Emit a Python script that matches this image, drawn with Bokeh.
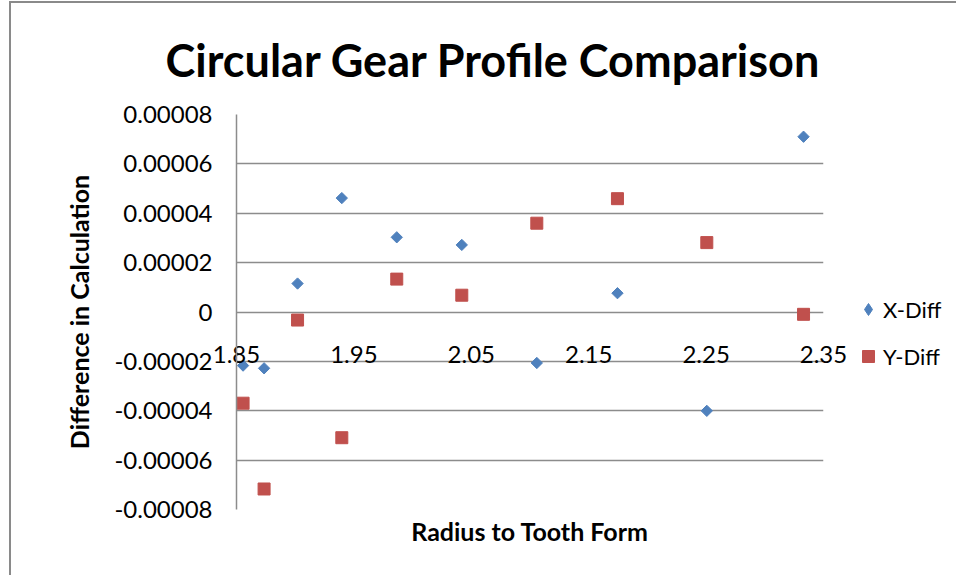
import math
from bokeh.plotting import figure
from bokeh.models import (FixedTicker, CustomJSTickFormatter, Legend, LegendItem, Title, Range1d)
from bokeh.embed import file_html
from bokeh.resources import INLINE

# ---- data ----
radius = [1.8556, 1.8735, 1.902, 1.9397, 1.9865, 2.0419, 2.1058, 2.1745, 2.2506, 2.333]
x_diff = [-2.171e-5, -2.281e-5, 1.153e-5, 4.615e-5, 3.026e-5, 2.717e-5, -2.065e-5, 0.762e-5, -4.004e-5, 7.10e-5]
y_diff = [-3.694e-5, -7.169e-5, -0.326e-5, -5.092e-5, 1.332e-5, 0.680e-5, 3.597e-5, 4.591e-5, 2.811e-5, -0.094e-5]
x_ticks = [1.85, 1.95, 2.05, 2.15, 2.25, 2.35]
y_ticks = [-8e-5, -6e-5, -4e-5, -2e-5, 0.0, 2e-5, 4e-5, 6e-5, 8e-5]

title_text = "Circular Gear Profile Comparison"
x_label = "Radius to Tooth Form"
y_label = "Difference in Calculation"
series_names = ["X-Diff", "Y-Diff"]

FONT = "Lato"
GRID = "#8c8c8c"
BLUE = "#4F81BD"
RED = "#C0504D"

p = figure(frame_width=587, frame_height=395, output_backend="svg", toolbar_location=None,
           x_range=Range1d(1.85, 2.35), y_range=Range1d(-8e-5, 8e-5),
           min_border_left=225, min_border_right=133, min_border_top=111, min_border_bottom=66,
           title=None)
p.styles = {"border-left": "2px solid #8a8a8a", "border-top": "2px solid #8a8a8a",
            "margin-left": "9px", "margin-top": "1px"}
p.outline_line_color = None
p.background_fill_color = "white"
p.border_fill_color = "white"

xa = p.below[0]
ya = p.left[0]

# title
t = Title(text=title_text, align="left", offset=-71, text_font=FONT, text_font_size="45px",
          text_font_style="bold", text_color="black", standoff=55)
p.add_layout(t, "above")

# x axis (labels sit just below the zero line)
xa.ticker = FixedTicker(ticks=x_ticks)
xa.formatter = CustomJSTickFormatter(code="return tick.toFixed(2);")
xa.axis_line_color = None
xa.major_tick_line_color = None
xa.minor_tick_line_color = None
xa.major_tick_out = 0
xa.major_tick_in = 0
xa.major_label_standoff = -164
xa.major_label_text_font = FONT
xa.major_label_text_font_size = "24px"
xa.major_label_text_color = "black"

# x axis label at bottom
xl = Title(text=x_label, align="center", text_font=FONT, text_font_size="25px",
           text_font_style="bold", text_color="black", standoff=8)
p.add_layout(xl, "below")

# y axis
ya.ticker = FixedTicker(ticks=y_ticks)
ya.formatter = CustomJSTickFormatter(code="return Math.abs(tick) < 1e-12 ? '0' : tick.toFixed(5);")
ya.axis_line_color = GRID
ya.axis_line_width = 1.5
ya.major_tick_line_color = None
ya.minor_tick_line_color = None
ya.major_tick_out = 0
ya.major_tick_in = 0
ya.major_label_standoff = 24
ya.major_label_text_font = FONT
ya.major_label_text_font_size = "24px"
ya.major_label_text_color = "black"
ya.axis_label = y_label
ya.axis_label_text_font = FONT
ya.axis_label_text_font_size = "25px"
ya.axis_label_text_font_style = "bold"
ya.axis_label_text_color = "black"
ya.axis_label_standoff = 17

p.xgrid.grid_line_color = None
p.ygrid.grid_line_color = GRID
p.ygrid.grid_line_width = 1.5
p.ygrid.ticker = FixedTicker(ticks=y_ticks)

r1 = p.scatter(radius, x_diff, marker="square", angle=math.pi / 4, size=8,
               fill_color=BLUE, line_color=BLUE)
r2 = p.scatter(radius, y_diff, marker="square", size=12, fill_color=RED, line_color=RED)
# hidden twin of the X-Diff series, used only for its diamond legend symbol
r1_key = p.scatter(radius, x_diff, marker="diamond", size=12,
                   fill_color=BLUE, line_color=BLUE, visible=False)

legend = Legend(items=[LegendItem(label=series_names[0], renderers=[r1_key]),
                       LegendItem(label=series_names[1], renderers=[r2])],
                location=(30, 138), orientation="vertical",
                label_text_font=FONT, label_text_font_size="22px", label_text_color="black",
                glyph_width=30, glyph_height=30, label_height=30, spacing=17,
                label_standoff=0, padding=5, margin=0, click_policy="none",
                inactive_fill_alpha=0,
                border_line_color=None, background_fill_alpha=0)
p.add_layout(legend, "right")

open("out.html", "w").write(file_html(p, INLINE))
